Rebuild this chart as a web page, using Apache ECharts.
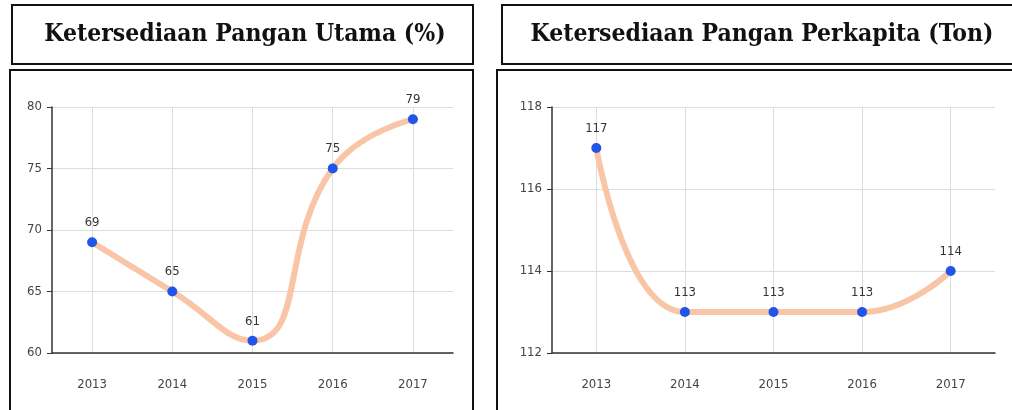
<!DOCTYPE html>
<html lang="id">
<head>
    <meta charset="UTF-8">
    <title>Ketersediaan Pangan</title>
    <style>
        html, body { margin: 0; padding: 0; background: #fff; }
        #main { width: 1012px; height: 410px; }
    </style>
</head>
<body>
<div id="main"></div>
<script src="https://cdn.jsdelivr.net/npm/echarts@6/dist/echarts.min.js"></script>
<script>
    // data
    const tahun = ['2013', '2014', '2015', '2016', '2017'];
    const panganUtama = [69, 65, 61, 75, 79];
    const panganPerkapita = [117, 113, 113, 113, 114];
    const judulKiri = 'Ketersediaan Pangan Utama (%)';
    const judulKanan = 'Ketersediaan Pangan Perkapita (Ton)';

    const myChart = echarts.init(document.getElementById('main'));

    const labelFont = '"Liberation Sans Narrow", "DejaVu Sans Condensed", sans-serif';
    const titleFont = '"DejaVu Serif Condensed", "DejaVu Serif", serif';

    function xAxisOf(idx) {
        return {
            type: 'category', gridIndex: idx, data: tahun, boundaryGap: true,
            axisLine: { lineStyle: { color: '#333', width: 1.5 } },
            axisTick: { alignWithLabel: true, length: 6, lineStyle: { color: '#333' } },
            axisLabel: { color: '#444', fontSize: 13, fontFamily: labelFont, margin: 25 },
            splitLine: { show: true, alignWithLabel: true, lineStyle: { color: '#ddd' } }
        };
    }
    function yAxisOf(idx, min, max, interval) {
        return {
            type: 'value', gridIndex: idx, min: min, max: max, interval: interval,
            axisLine: { show: true, lineStyle: { color: '#333', width: 1.5 } },
            axisTick: { show: true, length: 5, lineStyle: { color: '#333' } },
            axisLabel: { color: '#444', fontSize: 13, fontFamily: labelFont, margin: 10 },
            splitLine: { lineStyle: { color: '#ddd' } }
        };
    }
    function seriesOf(idx, data) {
        return {
            type: 'line', xAxisIndex: idx, yAxisIndex: idx, data: data,
            smooth: true,
            symbol: 'circle', symbolSize: 10,
            itemStyle: { color: '#2155e8' },
            lineStyle: { color: '#f8c6a6', width: 6 },
            label: { show: true, position: 'top', distance: 8, color: '#333',
                fontSize: 13, fontFamily: labelFont }
        };
    }
    function kotak(x, y, w, h) {
        return { type: 'rect', shape: { x: x, y: y, width: w, height: h },
            style: { fill: 'none', stroke: '#111', lineWidth: 2 } };
    }

    myChart.setOption({
        animation: false,
        title: [
            { text: judulKiri, left: 240, top: 17, textAlign: 'center',
              textStyle: { fontFamily: titleFont, fontWeight: 'bold', fontSize: 24.5, color: '#111' } },
            { text: judulKanan, left: 757, top: 17, textAlign: 'center',
              textStyle: { fontFamily: titleFont, fontWeight: 'bold', fontSize: 24.5, color: '#111' } }
        ],
        graphic: [
            kotak(12, 5, 461, 59),
            kotak(10, 70, 463, 350),
            kotak(502, 5, 520, 59),
            kotak(497, 70, 525, 350)
        ],
        grid: [
            { left: 52, top: 107, width: 401, height: 246 },
            { left: 552, top: 107, width: 443, height: 246 }
        ],
        xAxis: [xAxisOf(0), xAxisOf(1)],
        yAxis: [yAxisOf(0, 60, 80, 5), yAxisOf(1, 112, 118, 2)],
        series: [seriesOf(0, panganUtama), seriesOf(1, panganPerkapita)]
    });
</script>
</body>
</html>
